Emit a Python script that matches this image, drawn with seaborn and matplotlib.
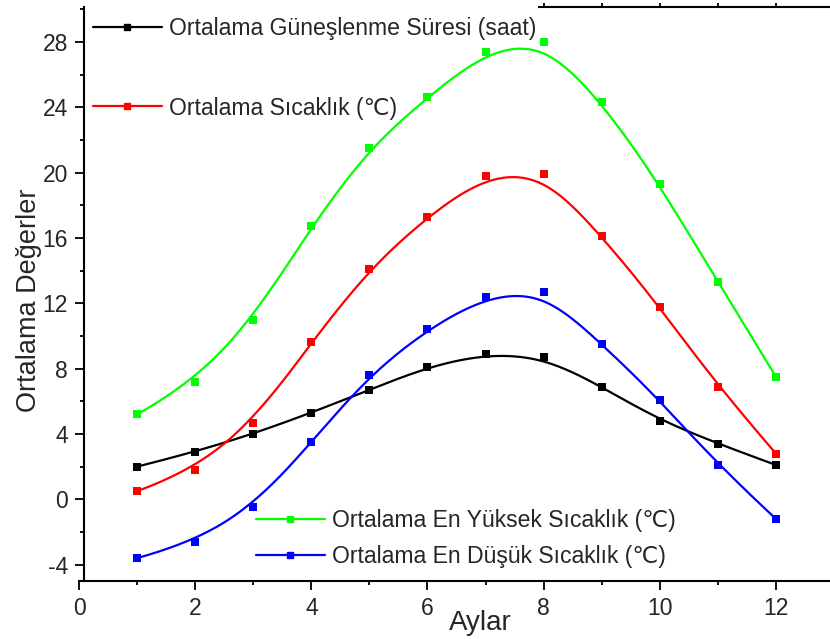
import numpy as np
import seaborn as sns
import matplotlib.pyplot as plt
from matplotlib.lines import Line2D
from matplotlib.ticker import MultipleLocator

sns.set_theme(style="ticks")
plt.rcParams['font.family'] = ['Liberation Sans', 'DejaVu Sans']
plt.rcParams['axes.unicode_minus'] = False

aylar = list(range(1, 13))
gunes = [2.0, 2.9, 4.0, 5.3, 6.7, 8.1, 8.9, 8.7, 6.9, 4.8, 3.4, 2.1]
sicaklik = [0.5, 1.8, 4.7, 9.6, 14.1, 17.3, 19.8, 19.9, 16.1, 11.8, 6.9, 2.8]
en_yuksek = [5.2, 7.2, 11.0, 16.7, 21.5, 24.6, 27.4, 28.0, 24.3, 19.3, 13.3, 7.5]
en_dusuk = [-3.6, -2.6, -0.5, 3.5, 7.6, 10.4, 12.4, 12.7, 9.5, 6.1, 2.1, -1.2]

etiketler = ['Ortalama Güneşlenme Süresi (saat)',
             'Ortalama Sıcaklık (℃)',
             'Ortalama En Yüksek Sıcaklık (℃)',
             'Ortalama En Düşük Sıcaklık (℃)']
renkler = ['black', '#ff0000', '#00ff00', '#0000ff']
seriler = [gunes, sicaklik, en_yuksek, en_dusuk]


def bspline(x, y, n=400, k=3):
    # clamped cubic B-spline with the data points as control points (Origin "B-Spline" connect)
    x = np.asarray(x, float)
    y = np.asarray(y, float)
    m = len(x)
    knots = np.concatenate([np.zeros(k), np.arange(m - k + 1), np.full(k, m - k)]).astype(float)
    t = np.linspace(0, m - k, n)
    t[-1] -= 1e-9
    N = np.array([(knots[i] <= t) & (t < knots[i + 1]) for i in range(len(knots) - 1)], float)
    for d in range(1, k + 1):
        Nn = np.zeros((len(knots) - 1 - d, n))
        for i in range(len(knots) - 1 - d):
            a = knots[i + d] - knots[i]
            b = knots[i + d + 1] - knots[i + 1]
            if a > 0:
                Nn[i] += (t - knots[i]) / a * N[i]
            if b > 0:
                Nn[i] += (knots[i + d + 1] - t) / b * N[i + 1]
        N = Nn
    return N.T @ x, N.T @ y


fig = plt.figure(figsize=(8.3, 6.39), dpi=100)
ax = fig.add_axes([79 / 830, 1 - 581 / 639, 751 / 830, (581 - 6.7) / 639])

for deger, renk in zip(seriler, renkler):
    bx, by = bspline(aylar, deger)
    sns.lineplot(x=bx, y=by, color=renk, lw=1.6, sort=False, ax=ax)
    sns.scatterplot(x=aylar, y=deger, color=renk, marker='s', s=30, linewidth=0, ax=ax, zorder=6)

ax.set_xlim(0, 12.93)
ax.set_ylim(-5, 30.15)
ax.set_xticks(range(0, 13, 2))
ax.set_yticks(range(-4, 29, 4))
ax.xaxis.set_minor_locator(MultipleLocator(1))
ax.yaxis.set_minor_locator(MultipleLocator(2))
ax.tick_params(which='major', direction='out', length=6.5, width=1.3, labelsize=16.5, color='black', pad=5)
ax.tick_params(which='minor', direction='out', length=3.2, width=1.3, color='black')
ax.tick_params(axis='x', which='both', top=True)

ax.spines['right'].set_visible(False)
for s in ['left', 'bottom', 'top']:
    ax.spines[s].set_linewidth(1.5)
    ax.spines[s].set_color('black')
ax.spines['left'].set_position(('data', 0.086))
# the top axis line only shows right of the legend in the original
ax.spines['top'].set_bounds(7.92, 12.93)

ax.set_xlabel('Aylar', fontsize=20)
ax.set_ylabel('Ortalama Değerler', fontsize=19.5)
ax.xaxis.set_label_coords((480 - 79) / 751, -0.05)
ax.yaxis.set_label_coords((42 - 79) / 751, (581 - 300) / 574.3)

tutamaklar = [Line2D([], [], color=r, lw=1.6, marker='s', markersize=5) for r in renkler]
# every legend entry sits on its own, like the original figure
konumlar = [(88, 29), (88, 108), (251, 521), (251, 557)]
for i, (px, py) in enumerate(konumlar):
    leg = ax.legend([tutamaklar[i]], [etiketler[i]], loc='center left',
                    bbox_to_anchor=(px / 830, 1 - py / 639), bbox_transform=fig.transFigure,
                    fontsize=16.6, frameon=False, handlelength=3, handletextpad=0.3,
                    borderpad=0.2, borderaxespad=0)
    if i < len(konumlar) - 1:
        ax.add_artist(leg)

fig.canvas.draw()
for tk in ax.xaxis.get_major_ticks() + ax.xaxis.get_minor_ticks():
    tk.tick2line.set_markersize(3)
    if tk.get_loc() < 7.9:
        tk.tick2line.set_visible(False)

fig.savefig('out.png', dpi=100)
